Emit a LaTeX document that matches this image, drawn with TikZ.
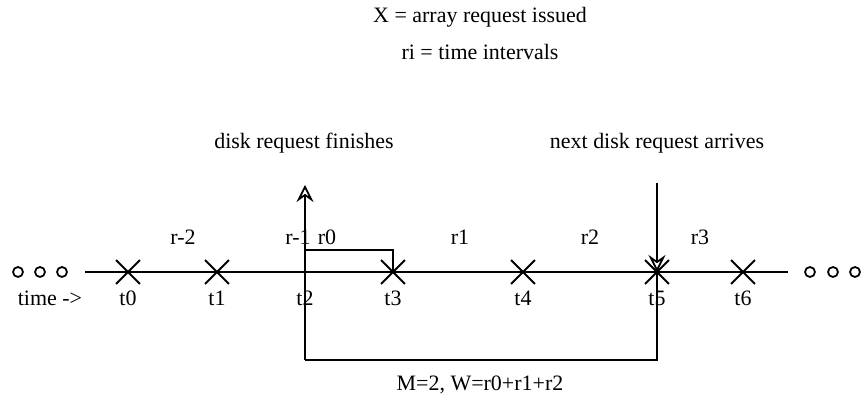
\documentclass[tikz,border=0pt]{standalone}
\usepackage{fontspec}
\setmainfont{Liberation Serif}
\usetikzlibrary{arrows.meta}
\usetikzlibrary{shapes.misc}

\begin{document}
\begin{tikzpicture}[
    x=0.2mm, y=-0.2mm,
    every node/.style={font=\fontsize{12.5}{15}\selectfont, inner sep=1pt},
    issued/.style={cross out, draw, minimum size=4.4mm, line width=1.1pt, inner sep=0pt},
    dot/.style={circle, draw, minimum size=2mm, inner sep=0pt, line width=1pt},
    arrow/.style={-{Stealth[open, length=3.4mm, width=3.4mm, inset=1.2mm]}, line width=1pt}
]
\useasboundingbox (0,0) rectangle (862,398);

% Legend
\node (legx) at (480,17) {X = array request issued};
\node (legr) at (480,52) {ri = time intervals};

% Dots at both ends
\node[dot] (l1) at (18,272) {};
\node[dot] (l2) at (40,272) {};
\node[dot] (l3) at (62,272) {};
\node[dot] (e1) at (810,272) {};
\node[dot] (e2) at (833,272) {};
\node[dot] (e3) at (855,272) {};

% Time axis
\coordinate (axl) at (85,272);
\coordinate (axr) at (788,272);
\draw[line width=1pt] (axl) -- (axr);

% Array requests
\node[issued] (x0) at (128,272) {};
\node[issued] (x1) at (217,272) {};
\coordinate (x2) at (305,272);
\node[issued] (x3) at (393,272) {};
\node[issued] (x4) at (523,272) {};
\node[issued] (x5) at (657,272) {};
\node[issued] (x6) at (743,272) {};

% Time labels
\node (time) at (50,298) {time ->};
\node (t0) at (128,298) {t0};
\node (t1) at (217,298) {t1};
\node (t2) at (305,298) {t2};
\node (t3) at (393,298) {t3};
\node (t4) at (523,298) {t4};
\node (t5) at (657,298) {t5};
\node (t6) at (743,298) {t6};

% Intervals
\node (rm2) at (183,237) {r-2};
\node (rm1) at (298,237) {r-1};
\node (r0) at (327,237) {r0};
\node (r1) at (460,237) {r1};
\node (r2) at (590,237) {r2};
\node (r3) at (700,237) {r3};

% Disk events
\node (fin) at (304,143) {disk request finishes};
\node (arr) at (657,143) {next disk request arrives};
\coordinate (up) at (305,185);
\coordinate (down) at (657,183);
\coordinate (wl) at (305,360);
\coordinate (wr) at (657,360);
\coordinate (r0l) at (305,250);

\draw[arrow] (wl) -- (up);
\draw[arrow] (down) -- (x5.center);
\draw[line width=1pt] (x5.center) -- (wr) -- (wl);
\draw[line width=0.8pt] (r0l) -| (x3.center);

\node (win) at (480,385) {M=2, W=r0+r1+r2};

\end{tikzpicture}
\end{document}
